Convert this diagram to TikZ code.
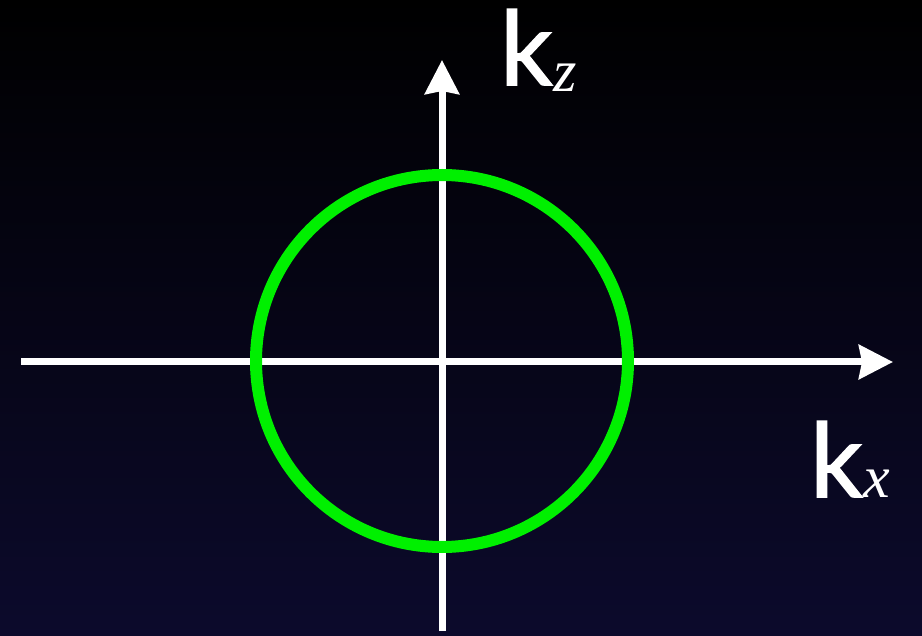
\documentclass[tikz,border=0pt]{standalone}
\usepackage{fontspec}
\setmainfont{Lato}
\newfontfamily\kfont{Lato}[FakeBold=1.5]
\newfontfamily\subfont{Liberation Serif}
\usetikzlibrary{arrows.meta}
\definecolor{bgbottom}{RGB}{12,10,44}
\definecolor{ringgreen}{RGB}{0,240,0}
\tikzset{
  axis/.style={draw=white, line width=7pt, -{Stealth[length=34pt,width=34pt,inset=3pt]}},
  ring/.style={draw=ringgreen, line width=12pt, circle, minimum size=372pt, inner sep=0pt},
  lbl/.style={anchor=base west, inner sep=0pt, text=white},
}
\newcommand{\bigk}{{\kfont\fontsize{103}{103}\selectfont k}}
\newcommand{\subletter}[1]{{\subfont\itshape\fontsize{60}{60}\selectfont #1}}
\begin{document}
\begin{tikzpicture}[x=1pt,y=-1pt]
\shade[top color=black, bottom color=bgbottom] (0,0) rectangle (922,636);
\useasboundingbox (0,0) rectangle (922,636);
\coordinate (xs) at (21,362);
\coordinate (xe) at (893,362);
\coordinate (ys) at (442,631);
\coordinate (ye) at (442,60);
\draw[axis] (xs) -- (xe);
\draw[axis] (ys) -- (ye);
\node[ring] (c) at (442,361) {};
\node[lbl] (kz) at (500,85) {\bigk\kern1pt\raisebox{-7pt}{\subletter{z}}};
\node[lbl] (kx) at (810,497) {\bigk\kern1pt\subletter{x}};
\end{tikzpicture}
\end{document}
